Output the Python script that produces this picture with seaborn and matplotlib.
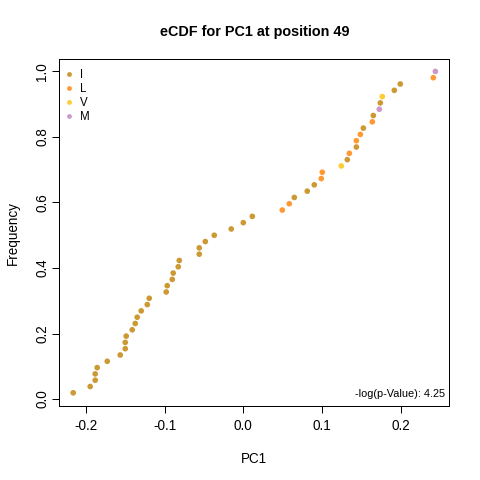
import numpy as np
import pandas as pd
import matplotlib
matplotlib.use("Agg")
import matplotlib.pyplot as plt
import seaborn as sns

# PC1 values (sorted) and residue at position 49
pc1 = [-0.2163, -0.1947, -0.1883, -0.1883, -0.1858, -0.1730, -0.1565, -0.1501,
       -0.1501, -0.1489, -0.1412, -0.1374, -0.1349, -0.1298, -0.1221, -0.1196,
       -0.0980, -0.0967, -0.0903, -0.0891, -0.0827, -0.0814, -0.0560, -0.0560,
       -0.0483, -0.0369, -0.0153, 0.0000, 0.0115, 0.0496, 0.0585, 0.0649,
       0.0814, 0.0903, 0.0992, 0.1005, 0.1247, 0.1323, 0.1349, 0.1438,
       0.1438, 0.1489, 0.1527, 0.1641, 0.1654, 0.1730, 0.1743, 0.1768,
       0.1921, 0.1997, 0.2417, 0.2443]
residue = ['I'] * 29 + ['L', 'L', 'I', 'I', 'I', 'L', 'L', 'V', 'I', 'L', 'I',
                        'L', 'L', 'I', 'L', 'I', 'M', 'I', 'V', 'I', 'I', 'L', 'M']
res_order = ['I', 'L', 'V', 'M']
res_colors = ['#CC9933', '#FF9933', '#FFCC33', '#CC99CC']
p_text = '-log(p-Value): 4.25'

df = pd.DataFrame({'PC1': pc1, 'Residue': residue})
df = df.sort_values('PC1', kind='stable').reset_index(drop=True)
df['Frequency'] = (df.index + 1) / len(df)  # empirical cdf

sns.set_style('white')
plt.rcParams['font.family'] = ['Liberation Sans', 'DejaVu Sans']
plt.rcParams['axes.unicode_minus'] = False
plt.rcParams['text.color'] = 'black'
plt.rcParams['axes.labelcolor'] = 'black'

fig = plt.figure(figsize=(480 / 72, 480 / 72), dpi=72)
ax = fig.add_axes([0.1235, 0.1535, 0.8125, 0.723])

sns.scatterplot(data=df, x='PC1', y='Frequency', hue='Residue',
                hue_order=res_order, palette=res_colors, s=32,
                linewidth=0, ax=ax)

ax.set_xlim(-0.234, 0.262)
ax.set_ylim(-0.022, 1.037)
ax.set_xticks([-0.2, -0.1, 0.0, 0.1, 0.2])
ax.set_xticklabels(['-0.2', '-0.1', '0.0', '0.1', '0.2'])
ax.set_yticks([0.0, 0.2, 0.4, 0.6, 0.8, 1.0])
ax.set_yticklabels(['0.0', '0.2', '0.4', '0.6', '0.8', '1.0'],
                   rotation=90, va='center')
ax.tick_params(bottom=True, left=True, direction='out', length=7, width=1,
               colors='black', labelsize=13.5, pad=6)
ax.tick_params(axis='y', pad=3)
for sp in ax.spines.values():
    sp.set_color('black')
    sp.set_linewidth(1)

ax.set_xlabel('PC1', fontsize=13.5, labelpad=19)
ax.set_ylabel('Frequency', fontsize=13.5, labelpad=15)
ax.set_title('eCDF for PC1 at position 49', fontsize=14.4,
             fontweight='bold', pad=23)

sns.move_legend(ax, 'upper left', title=None, frameon=False, fontsize=11.5,
                bbox_to_anchor=(-0.03, 1.0), handletextpad=0.0,
                labelspacing=0.18, borderaxespad=0.45, markerscale=0.85,
                labelcolor='black')

ax.text(0.99, 0.035, p_text, transform=ax.transAxes, ha='right',
        va='center', fontsize=11, color='black')

fig.savefig('out.png', dpi=72)
